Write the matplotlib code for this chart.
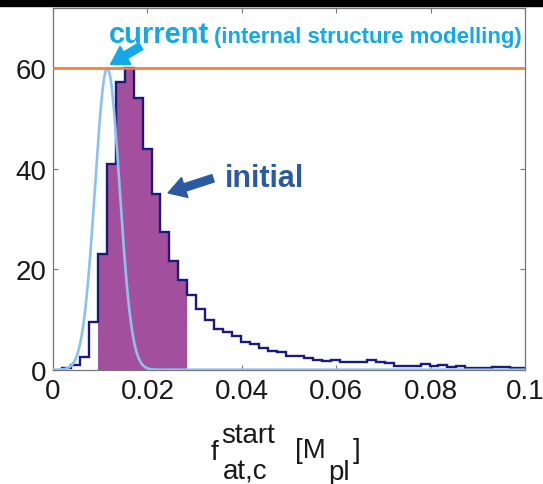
import numpy as np
import matplotlib
matplotlib.use("Agg")
import matplotlib.pyplot as plt
from matplotlib.patches import Rectangle

plt.rcParams['font.family'] = ['Liberation Sans', 'DejaVu Sans']

# histogram of initial atmospheric mass fraction (bin counts, scaled)
first_edge = 0.00187
bin_width = 0.0019
counts = [0.3, 0.9, 2.5, 9.5, 23.0, 41.0, 57.2, 60.0, 54.0, 44.0,
          35.0, 27.5, 21.7, 17.8, 14.9, 12.1, 9.9, 8.2, 7.6, 6.7,
          5.6, 5.1, 4.3, 3.8, 3.6, 2.8, 2.7, 2.4, 2.0, 1.7,
          2.0, 1.6, 1.5, 1.5, 1.9, 1.5, 1.4, 0.8, 0.7, 0.7,
          1.1, 0.7, 1.0, 0.6, 0.7, 0.4, 0.4, 0.4, 0.5, 0.5,
          0.3, 0.3]
shaded_bins = (4, 14)          # highlighted range of bins

# current estimate from internal structure modelling (gaussian)
current_mean = 0.0115
current_sigma = 0.0026
current_peak = 60.0

ref_level = 60.0

xticks = [0, 0.02, 0.04, 0.06, 0.08, 0.1]
xticklabels = ['0', '0.02', '0.04', '0.06', '0.08', '0.1']
yticks = [0, 20, 40, 60]

navy = '#1B1B7A'
purple = '#A2509E'
lightblue = '#8CC1EF'
orange = '#F07D3A'
cyan = '#12A9E6'
darkblue = '#2C5AA0'

W, H = 543, 485
fig = plt.figure(figsize=(W / 100, H / 100), dpi=100)
ax = fig.add_axes([53 / W, 1 - 370.7 / H, (525 - 53) / W, (370.7 - 9) / H])

counts = np.array(counts)
edges = first_edge + bin_width * np.arange(len(counts) + 1)
a, b = shaded_bins

ax.stairs(counts[a:b], edges[a:b + 1], fill=True, color=purple, zorder=1)
ax.stairs(counts, edges, color=navy, lw=1.7, zorder=2)

xs = np.linspace(0, 0.1, 600)
ys = current_peak * np.exp(-0.5 * ((xs - current_mean) / current_sigma) ** 2)
ax.plot(xs, ys, color=lightblue, lw=1.9, zorder=3)

ax.axhline(ref_level, color=orange, lw=1.9, zorder=4)

ax.set_xlim(0, 0.1)
ax.set_ylim(0, 72)
ax.set_xticks(xticks)
ax.set_xticklabels(xticklabels)
ax.set_yticks(yticks)
ax.tick_params(direction='in', length=3.6, width=0.8, color='#777777',
               top=True, right=True, labelsize=20, labelcolor='#1a1a1a')
ax.tick_params(axis='x', pad=6)
ax.tick_params(axis='y', pad=5)
for s in ax.spines.values():
    s.set_color('#777777')
    s.set_linewidth(0.9)

# annotations
ax.text(0.0119, 65.3, 'current', color=cyan, fontsize=21, fontweight='bold',
        ha='left', va='baseline')
ax.text(0.0341, 65.3, '(internal structure modelling)', color=cyan,
        fontsize=16, fontweight='bold', ha='left', va='baseline')
ax.annotate('', xy=(0.0122, 60.8), xytext=(0.0186, 64.4),
            arrowprops=dict(arrowstyle='simple,head_length=0.5,head_width=0.6,tail_width=0.22',
                            mutation_scale=25, color=cyan, shrinkA=0, shrinkB=0),
            zorder=5)

ax.text(0.0364, 36.6, 'initial', color=darkblue, fontsize=22, fontweight='bold',
        ha='left', va='baseline')
ax.annotate('', xy=(0.0244, 35.2), xytext=(0.0339, 38.1),
            arrowprops=dict(arrowstyle='simple,head_length=0.5,head_width=0.6,tail_width=0.22',
                            mutation_scale=25, color=darkblue, shrinkA=0, shrinkB=0),
            zorder=5)

# x label built from pieces so super/subscripts keep full size
def label_piece(x, y, s):
    fig.text(x / W, 1 - y / H, s, fontsize=20, color='#1a1a1a',
             ha='left', va='baseline')

label_piece(211, 460, 'f')
label_piece(221, 443, 'start')
label_piece(223, 480, 'at,c')
label_piece(295, 458, '[M')
label_piece(328, 480, 'pl')
label_piece(353, 458, ']')

# dark band along the top edge
fig.patches.append(Rectangle((0, 1 - 7 / H), 1, 7 / H, transform=fig.transFigure,
                             color='black', zorder=10))

fig.savefig('out.png', dpi=100)
